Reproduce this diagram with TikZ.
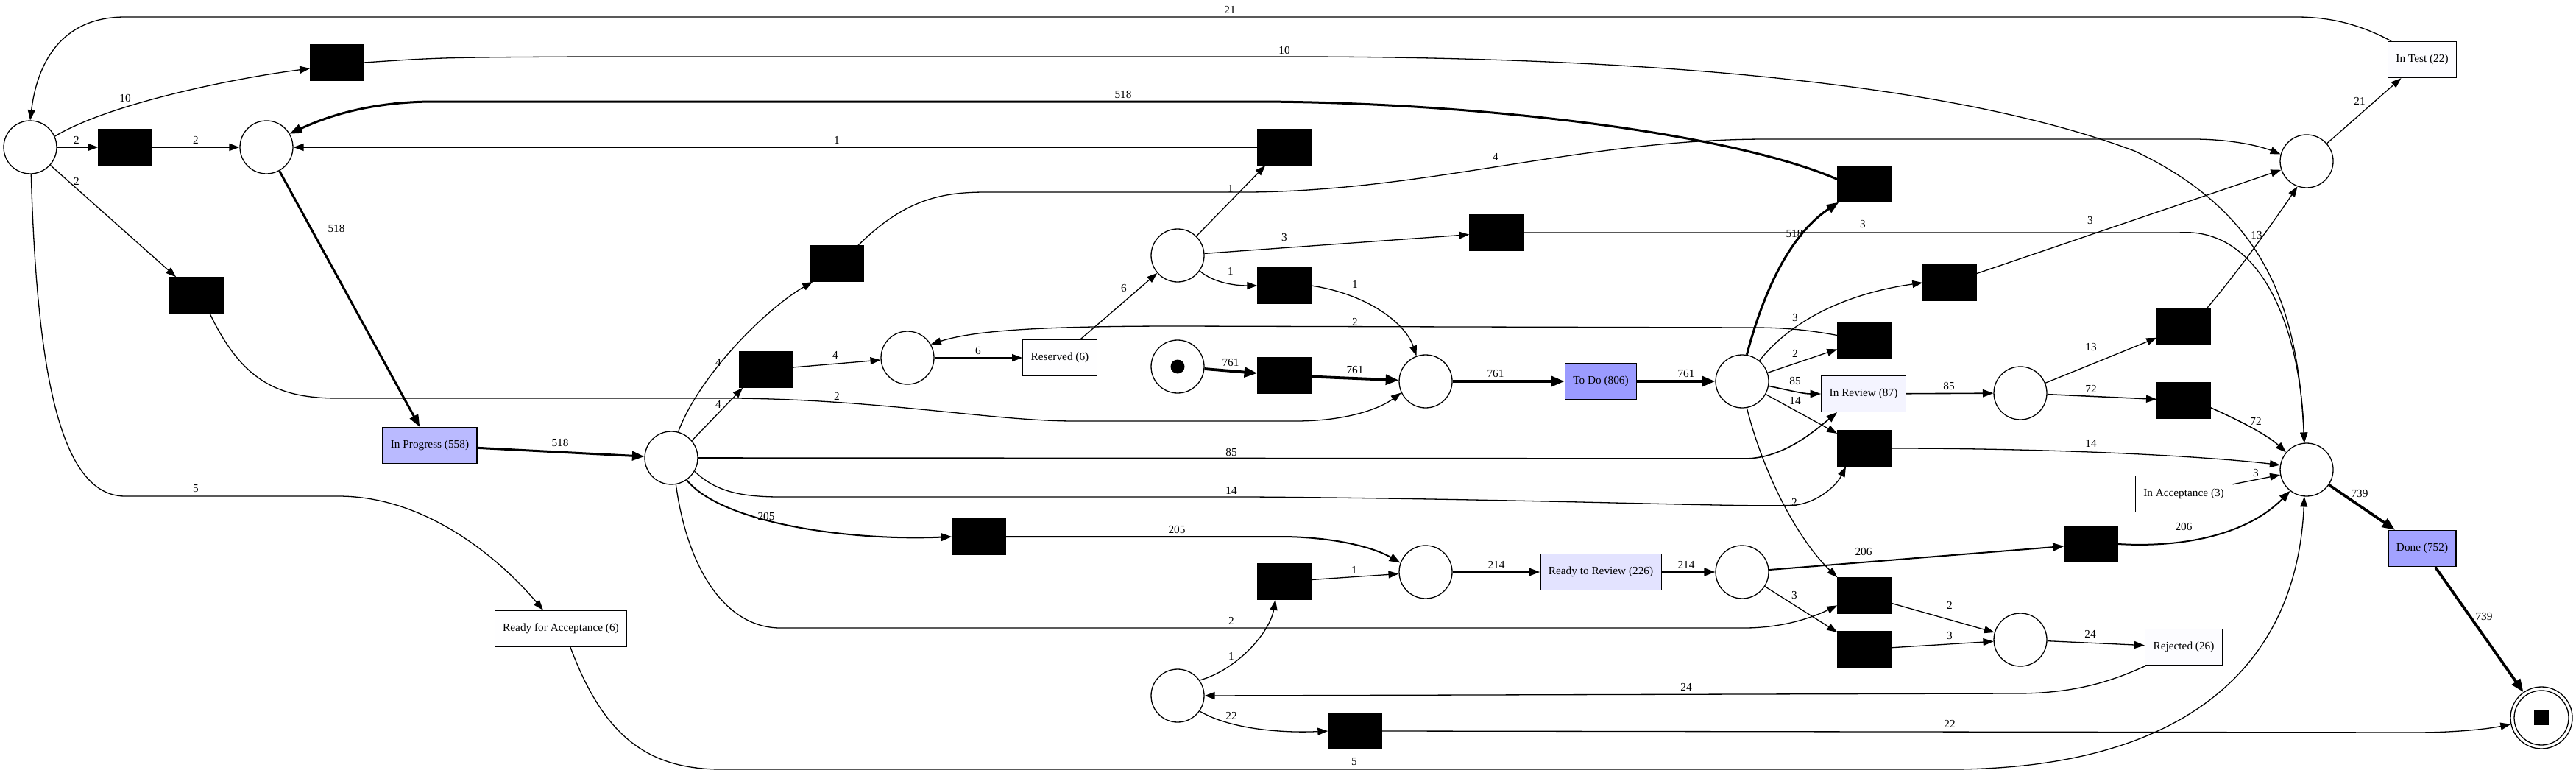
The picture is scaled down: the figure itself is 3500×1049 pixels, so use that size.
\documentclass[tikz,border=0pt]{standalone}
\usepackage{fontspec}
\setmainfont{Liberation Serif}
\usetikzlibrary{arrows.meta}
\newcommand{\gvfont}{\fontsize{15.3pt}{18pt}\selectfont}
\definecolor{cToDo}{HTML}{9B9BFF}
\definecolor{cDone}{HTML}{A2A2FF}
\definecolor{cInProg}{HTML}{BABAFF}
\definecolor{cRtR}{HTML}{E3E3FF}
\definecolor{cInRev}{HTML}{F4F4FF}
\definecolor{cLow}{HTML}{FCFCFF}
\definecolor{cMin}{HTML}{FEFEFF}
\begin{document}
\begin{tikzpicture}[x=1pt,y=-1pt,
  place/.style={circle,draw,line width=1.3pt,minimum size=72pt,inner sep=0pt},
  trans/.style={rectangle,draw,fill=black,line width=0.5pt,minimum width=73pt,minimum height=49pt,inner sep=0pt},
  box/.style={rectangle,draw,line width=1.3pt,minimum height=49pt,inner xsep=11pt,inner ysep=0pt,font=\gvfont},
  lb/.style={inner sep=0pt,font=\gvfont},
  ln/.style={line width=#1,-{Triangle[length=12pt 1.5,width=8pt 1.5]}},
  ln/.default=1.3pt]
\fill[white] (0,0) rectangle (3500,1049);
\useasboundingbox (0,0) rectangle (3500,1049);

% places
\node[place] (p1) at (41,200) {};
\node[place] (p2) at (362,200) {};
\node[place] (pip) at (912,622) {};
\node[place] (p3) at (1233,486) {};
\node[place] (pres) at (1600,347) {};
\node[place] (pstart) at (1600,498) {};
\node[circle,fill=black,minimum size=19pt,inner sep=0pt] (tok) at (1600,498) {};
\node[place] (ptodoin) at (1937,518) {};
\node[place] (ptodoout) at (2367,518) {};
\node[place] (prev) at (2745,534) {};
\node[place] (ptest) at (3134,219) {};
\node[place] (pdone) at (3134,638) {};
\node[place] (prr) at (1937,777) {};
\node[place] (prro) at (2367,777) {};
\node[place] (prej) at (2745,869) {};
\node[place] (plow) at (1600,945) {};
\node[circle,draw,line width=1.3pt,minimum size=84pt,inner sep=0pt] (pend) at (3453,975) {};
\node[circle,draw,line width=1.3pt,minimum size=74pt,inner sep=0pt] (pendin) at (3453,975) {};
\node[rectangle,fill=black,minimum size=20pt,inner sep=0pt] (pendsq) at (3453,975) {};

% transitions
\node[trans] (t10) at (458,85) {};
\node[trans] (t2) at (170,200) {};
\node[trans] (t3) at (267,401) {};
\node[trans] (ta) at (1745,200) {};
\node[trans] (tb) at (1137,358) {};
\node[trans] (tk) at (2033,316) {};
\node[trans] (tc) at (1745,388) {};
\node[trans] (td) at (1041,502) {};
\node[trans] (te) at (1745,510) {};
\node[trans] (tl) at (2533,250) {};
\node[trans] (tm) at (2649,384) {};
\node[trans] (tf) at (2533,462) {};
\node[trans] (tg) at (2533,609) {};
\node[trans] (th) at (1330,729) {};
\node[trans] (ti) at (1745,790) {};
\node[trans] (tj) at (1841,993) {};
\node[trans] (tp) at (2533,809) {};
\node[trans] (tr) at (2533,882) {};
\node[trans] (tq) at (2841,739) {};
\node[trans] (tn) at (2967,444) {};
\node[trans] (tx) at (2967,544) {};

% activity boxes
\node[box,fill=cInProg] (inprog) at (584,605) {In Progress (558)};
\node[box,fill=cMin] (rfa) at (762,854) {Ready for Acceptance (6)};
\node[box,fill=cMin] (reserved) at (1440,486) {Reserved (6)};
\node[box,fill=cToDo] (todo) at (2175,518) {To Do (806)};
\node[box,fill=cInRev] (inreview) at (2532,535) {In Review (87)};
\node[box,fill=cRtR] (rtr) at (2175,777) {Ready to Review (226)};
\node[box,fill=cLow] (intest) at (3291,81) {In Test (22)};
\node[box,fill=white] (inacc) at (2967,671) {In Acceptance (3)};
\node[box,fill=cLow] (rejected) at (2967,879) {Rejected (26)};
\node[box,fill=cDone] (done) at (3291,745) {Done (752)};

% arcs
\draw[ln] (p1.24) .. controls (150,140) and (320,106) .. ([yshift=-8pt]t10.west);
\draw[ln] (t10.east) .. controls (600,78) .. (800,77) -- (1750,77) .. controls (2350,77) and (2700,130) .. (2900,205) .. controls (3080,290) and (3122,420) .. (pdone.95);
\draw[ln] (p1) -- (t2);
\draw[ln] (t2) -- (p2);
\draw[ln] (p1) -- (t3);
\draw[ln] (t3.-54) .. controls (330,520) and (380,541) .. (460,541) -- (1000,541) .. controls (1200,543) and (1350,572) .. (1460,572) -- (1760,572) .. controls (1830,572) and (1875,555) .. (ptodoin.-155);
\draw[ln] (p1.-88) .. controls (50,500) and (80,674) .. (170,674) -- (460,674) .. controls (580,674) and (680,760) .. ([xshift=-24pt]rfa.north);
\draw[ln] ([xshift=13pt]rfa.south) .. controls (820,1000) and (880,1045) .. (980,1045) -- (2650,1045) .. controls (2950,1045) and (3120,920) .. (pdone.-95);
\draw[ln=3pt] (p2) -- (inprog);
\draw[ln=3pt] (inprog) -- (pip);
\draw[ln] (pip.75) .. controls (950,510) and (1040,420) .. ([xshift=4pt]tb.south west);
\draw[ln] (pip.40) -- ([xshift=5pt]td.south west);
\draw[ln] ([xshift=29pt]tb.north) .. controls (1230,270) and (1280,261) .. (1340,261) -- (1700,261) .. controls (1950,258) and (2150,189) .. (2400,189) -- (2980,189) .. controls (3030,189) and (3070,198) .. (ptest.165);
\draw[ln] (td) -- (p3);
\draw[ln] (p3) -- (reserved);
\draw[ln] ([xshift=28pt]reserved.north) -- (pres);
\draw[ln] (pres) -- ([xshift=11pt]ta.south west);
\draw[ln] (ta) -- (p2);
\draw[ln] (pres) -- (tk);
\draw[ln] (tk.east) -- (2960,316) .. controls (3070,308) and (3125,440) .. (pdone.95);
\draw[ln] (pres.-35) .. controls (1650,385) and (1680,388) .. (tc.west);
\draw[ln] (tc.east) .. controls (1860,400) and (1910,440) .. (ptodoin.110);
\draw[ln=3.8pt] (pstart) -- (te);
\draw[ln=3.8pt] (te) -- (ptodoin);
\draw[ln=3.8pt] (ptodoin) -- (todo);
\draw[ln=3.8pt] (todo) -- (ptodoout);
\draw[ln=3pt] (ptodoout.80) .. controls (2395,400) and (2430,320) .. ([xshift=2pt]tl.south west);
\draw[ln=3pt] (tl.170) .. controls (2350,180) and (2000,138) .. (1700,138) -- (590,138) .. controls (500,138) and (440,160) .. (p2.30);
\draw[ln] (ptodoout.50) .. controls (2430,440) and (2500,400) .. (tm.west);
\draw[ln] (tm) -- (ptest);
\draw[ln] (ptodoout) -- (tf);
\draw[ln] (tf.170) .. controls (2450,447) and (2420,445) .. (2380,445) -- (1600,443) .. controls (1400,443) and (1320,450) .. (p3.30);
\draw[ln=1.6pt] (ptodoout.-10) .. controls (2430,530) and (2450,535) .. (inreview.west);
\draw[ln=1.6pt] (pip.east) -- (2370,623) .. controls (2420,623) and (2460,590) .. ([xshift=-36pt]inreview.south);
\draw[ln=1.6pt] (inreview) -- (prev);
\draw[ln] (prev) -- (tn);
\draw[ln] ([xshift=31pt]tn.north) .. controls (3040,370) and (3090,300) .. (ptest.-110);
\draw[ln=1.5pt] (prev) -- (tx);
\draw[ln=1.5pt] (tx.-15) .. controls (3040,570) and (3080,590) .. (pdone.140);
\draw[ln] (ptodoout) -- (tg);
\draw[ln] (pip.-30) .. controls (970,665) and (1000,675) .. (1060,675) -- (1700,675) .. controls (2100,678) and (2380,690) .. (2440,686) .. controls (2470,682) and (2495,660) .. ([xshift=-25pt]tg.south);
\draw[ln] (tg.east) .. controls (2800,609) and (3000,620) .. (pdone.170);
\draw[ln] (inacc) -- (pdone);
\draw[ln] (ptodoout.-80) .. controls (2395,640) and (2440,730) .. (tp.north west);
\draw[ln] (pip.-80) .. controls (935,780) and (990,853) .. (1060,853) -- (2370,853) .. controls (2420,853) and (2460,840) .. (tp.200);
\draw[ln=2pt] (pip.-55) .. controls (980,710) and (1150,735) .. (th.west);
\draw[ln=2pt] (th.east) -- (1740,729) .. controls (1800,729) and (1860,740) .. (prr.160);
\draw[ln] (ti) -- (prr);
\draw[ln=2pt] (prr) -- (rtr);
\draw[ln=2pt] (rtr) -- (prro);
\draw[ln=2pt] (prro) -- (tq);
\draw[ln=2pt] (tq.east) .. controls (2980,745) and (3060,720) .. (pdone.-128);
\draw[ln] (prro) -- (tr);
\draw[ln] (tp) -- (prej);
\draw[ln] (tr) -- (prej);
\draw[ln] (prej) -- (rejected);
\draw[ln] ([xshift=2pt]rejected.south west) .. controls (2870,925) and (2820,942) .. (2740,942) -- (plow.east);
\draw[ln] (plow.35) .. controls (1680,910) and (1725,860) .. ([xshift=-12pt]ti.south);
\draw[ln] (plow.-35) .. controls (1670,990) and (1740,996) .. (tj.west);
\draw[ln] (tj.east) -- (3280,995) .. controls (3340,995) and (3380,990) .. (pend.192);
\draw[ln=3.7pt] (pdone) -- (done);
\draw[ln=3.7pt] (done) -- (pend);
\draw[ln] (ptest) -- (intest);
\draw[ln] ([xshift=-42pt]intest.north) .. controls (3210,35) and (3170,23) .. (3120,23) -- (170,23) .. controls (80,23) and (50,90) .. (p1.north);

% labels
\node[lb] (l1) at (170,133) {10};
\node[lb] (l2) at (1745,68) {10};
\node[lb] (l3) at (104,190) {2};
\node[lb] (l4) at (266,190) {2};
\node[lb] (l5) at (104,246) {2};
\node[lb] (l6) at (1137,538) {2};
\node[lb] (l7) at (266,664) {5};
\node[lb] (l8) at (1840,1035) {5};
\node[lb] (l9) at (457,310) {518};
\node[lb] (l10) at (761,601) {518};
\node[lb] (l11) at (976,492) {4};
\node[lb] (l12) at (2032,213) {4};
\node[lb] (l13) at (976,549) {4};
\node[lb] (l14) at (1135,482) {4};
\node[lb] (l15) at (1329,477) {6};
\node[lb] (l16) at (1527,392) {6};
\node[lb] (l17) at (1672,256) {1};
\node[lb] (l18) at (1137,190) {1};
\node[lb] (l19) at (1745,323) {3};
\node[lb] (l20) at (2531,305) {3};
\node[lb] (l21) at (1672,368) {1};
\node[lb] (l22) at (1841,386) {1};
\node[lb] (l23) at (1672,493) {761};
\node[lb] (l24) at (1841,503) {761};
\node[lb] (l25) at (2032,508) {761};
\node[lb] (l26) at (2291,508) {761};
\node[lb] (l27) at (2438,317) {518};
\node[lb] (l28) at (1526,128) {518};
\node[lb] (l29) at (2439,432) {3};
\node[lb] (l30) at (2840,300) {3};
\node[lb] (l31) at (2439,480) {2};
\node[lb] (l32) at (1841,437) {2};
\node[lb] (l33) at (2439,517) {85};
\node[lb] (l34) at (1673,614) {85};
\node[lb] (l35) at (2648,524) {85};
\node[lb] (l36) at (2841,472) {13};
\node[lb] (l37) at (3066,320) {13};
\node[lb] (l38) at (2841,528) {72};
\node[lb] (l39) at (3065,572) {72};
\node[lb] (l40) at (2439,544) {14};
\node[lb] (l41) at (1673,666) {14};
\node[lb] (l42) at (2841,602) {14};
\node[lb] (l43) at (3065,643) {3};
\node[lb] (l44) at (2438,682) {2};
\node[lb] (l45) at (1673,843) {2};
\node[lb] (l46) at (1041,701) {205};
\node[lb] (l47) at (1599,719) {205};
\node[lb] (l48) at (1840,774) {1};
\node[lb] (l49) at (2033,767) {214};
\node[lb] (l50) at (2291,767) {214};
\node[lb] (l51) at (2532,749) {206};
\node[lb] (l52) at (2967,715) {206};
\node[lb] (l53) at (2438,808) {3};
\node[lb] (l54) at (2649,822) {2};
\node[lb] (l55) at (2649,863) {3};
\node[lb] (l56) at (2840,861) {24};
\node[lb] (l57) at (2291,933) {24};
\node[lb] (l58) at (1673,891) {1};
\node[lb] (l59) at (1673,972) {22};
\node[lb] (l60) at (2649,983) {22};
\node[lb] (l61) at (3206,671) {739};
\node[lb] (l62) at (3375,837) {739};
\node[lb] (l63) at (3206,137) {21};
\node[lb] (l64) at (1671,13) {21};
\end{tikzpicture}
\end{document}
